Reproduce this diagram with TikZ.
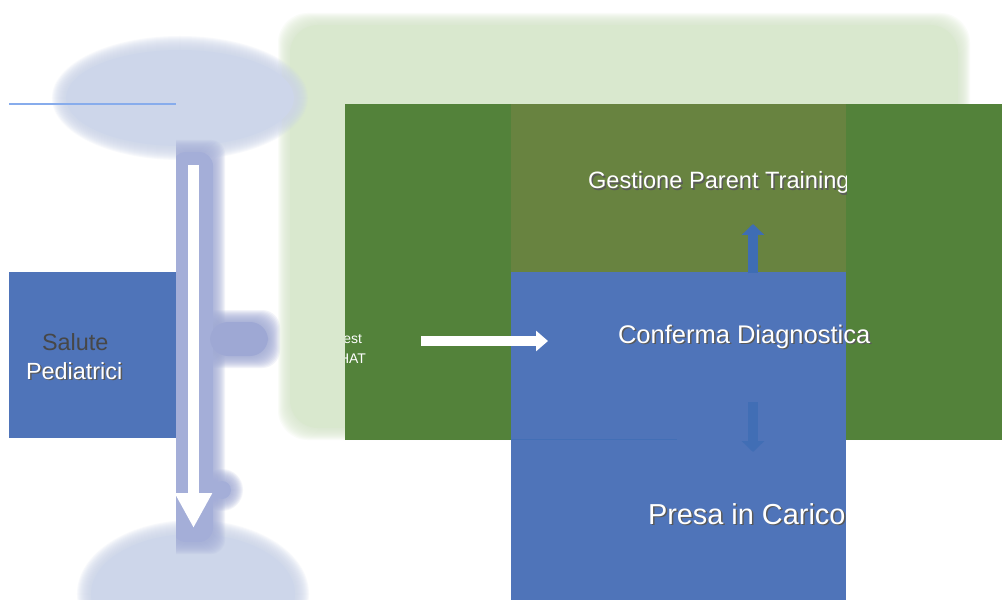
\documentclass[tikz,border=0pt]{standalone}
\usepackage{fontspec}
\newfontfamily\arial{Liberation Sans}
\usetikzlibrary{arrows.meta}
\definecolor{boxblue}{RGB}{79,116,185}
\definecolor{darkgreen}{RGB}{83,130,58}
\definecolor{olive}{RGB}{104,131,64}
\definecolor{palegreen}{RGB}{217,232,206}
\definecolor{paleblue}{RGB}{205,214,234}
\definecolor{barblue}{RGB}{164,174,216}
\definecolor{stubblue}{RGB}{158,168,212}
\definecolor{arrowblue}{RGB}{62,109,180}
\definecolor{ruleblue}{RGB}{135,172,236}
\newcommand\shd[1]{\makebox[0pt][l]{\kern1.5bp\raisebox{-1.5bp}{\color{black!65}#1}}#1}

\begin{document}
\begin{tikzpicture}[x=1bp,y=-1bp]
    \tikzstyle{every node}=[inner sep=0pt,outer sep=0pt];
    \tikzstyle{box}=[rectangle,anchor=north west];
    \tikzstyle{txt}=[anchor=base west,text=white];
    \tikzstyle{haze}=[opacity=.13];
    \tikzstyle{warrow}=[draw=white,-{Triangle[width=20bp,length=12bp]},line width=10bp];
    \tikzstyle{barrow}=[draw=arrowblue,-{Triangle[width=22bp,length=11bp]},line width=10bp];
    \useasboundingbox[fill=white] (0,0) rectangle (1002,600);

    \foreach \k in {12,...,1}
      \fill[palegreen,haze,rounded corners=30bp] ({290-\k},{25-\k}) rectangle ({958+\k},{428+\k});
    \fill[palegreen,rounded corners=28bp] (290,25) rectangle (958,428);

    \foreach \k in {14,...,1} {
      \fill[paleblue,haze] (180,98) ellipse [x radius={114bp+\k*1bp}, y radius={48bp+\k*1bp}];
      \fill[paleblue,haze] (193,594) ellipse [x radius={102bp+\k*1bp}, y radius={60bp+\k*1bp}];
    }
    \fill[paleblue] (180,98) ellipse [x radius=114bp, y radius=48bp];
    \fill[paleblue] (193,594) ellipse [x radius=102bp, y radius=60bp];

    \begin{scope}
      \clip (176,0) rectangle (400,600);
      \foreach \k in {12,...,1} {
        \fill[barblue,haze,rounded corners=14bp] ({172-\k},{152-\k}) rectangle ({213+\k},{542+\k});
        \fill[stubblue,haze,rounded corners=18bp] ({210-\k},{322-\k}) rectangle ({268+\k},{356+\k});
        \fill[barblue,haze] (222,490) circle ({9bp+\k*1bp});
      }
      \fill[barblue,rounded corners=14bp] (172,152) rectangle (213,542);
      \fill[stubblue,rounded corners=18bp] (210,322) rectangle (268,356);
      \fill[barblue] (222,490) circle (9bp);
    \end{scope}

    \draw[ruleblue,line width=1.2bp] (9,104) -- (176,104);

    \node at (9,272)   (sp) [box,fill=boxblue,minimum width=167bp,minimum height=166bp] {};
    \node at (345,104) (gr) [box,fill=darkgreen,minimum width=657bp,minimum height=336bp] {};
    \node at (511,104) (pt) [box,fill=olive,minimum width=335bp,minimum height=168bp] {};
    \node at (511,272) (cd) [box,fill=boxblue,minimum width=335bp,minimum height=328bp] {};
    \draw[arrowblue!70!boxblue,line width=.8bp] (511,439.5) -- (677,439.5);

    \node at (42,350) (sal) [txt,text=black!72,font=\arial\fontsize{23.5}{28}\selectfont] {Salute};
    \node at (26,379) (ped) [txt,font=\arial\fontsize{23.5}{28}\selectfont] {\shd{Pediatrici}};
    \begin{scope}
      \clip (345,104) rectangle (1002,440);
      \node at (362,343) (tst) [anchor=base east,text=white,font=\arial\fontsize{14}{17}\selectfont] {Test};
      \node at (366,363) (mch) [anchor=base east,text=white,font=\arial\fontsize{14}{17}\selectfont] {M-CHAT};
    \end{scope}
    \begin{scope}
      \clip (511,104) rectangle (846,272);
      \node at (588,189) (gpt) [txt,font=\arial\fontsize{23.7}{28}\selectfont] {\shd{Gestione Parent Training}};
    \end{scope}
    \node at (618,343) (cdt) [txt,font=\arial\fontsize{25.6}{30}\selectfont] {\shd{Conferma Diagnostica}};
    \node at (648,524) (pic) [txt,font=\arial\fontsize{29}{34}\selectfont] {\shd{Presa in Carico}};

    \coordinate (wa) at (421,341);
    \coordinate (wb) at (548,341);
    \coordinate (va) at (193.5,165);
    \coordinate (vb) at (193.5,528);
    \coordinate (ua) at (753,273);
    \coordinate (ub) at (753,224);
    \coordinate (da) at (753,402);
    \coordinate (db) at (753,452);

    \draw[warrow] (wa) to (wb);
    \draw[warrow,-{Triangle[width=35bp,length=35bp]},line width=11bp] (va) to (vb);
    \draw[barrow] (ua) to (ub);
    \draw[barrow,draw=arrowblue!85!boxblue] (da) to (db);
\end{tikzpicture}
\end{document}
